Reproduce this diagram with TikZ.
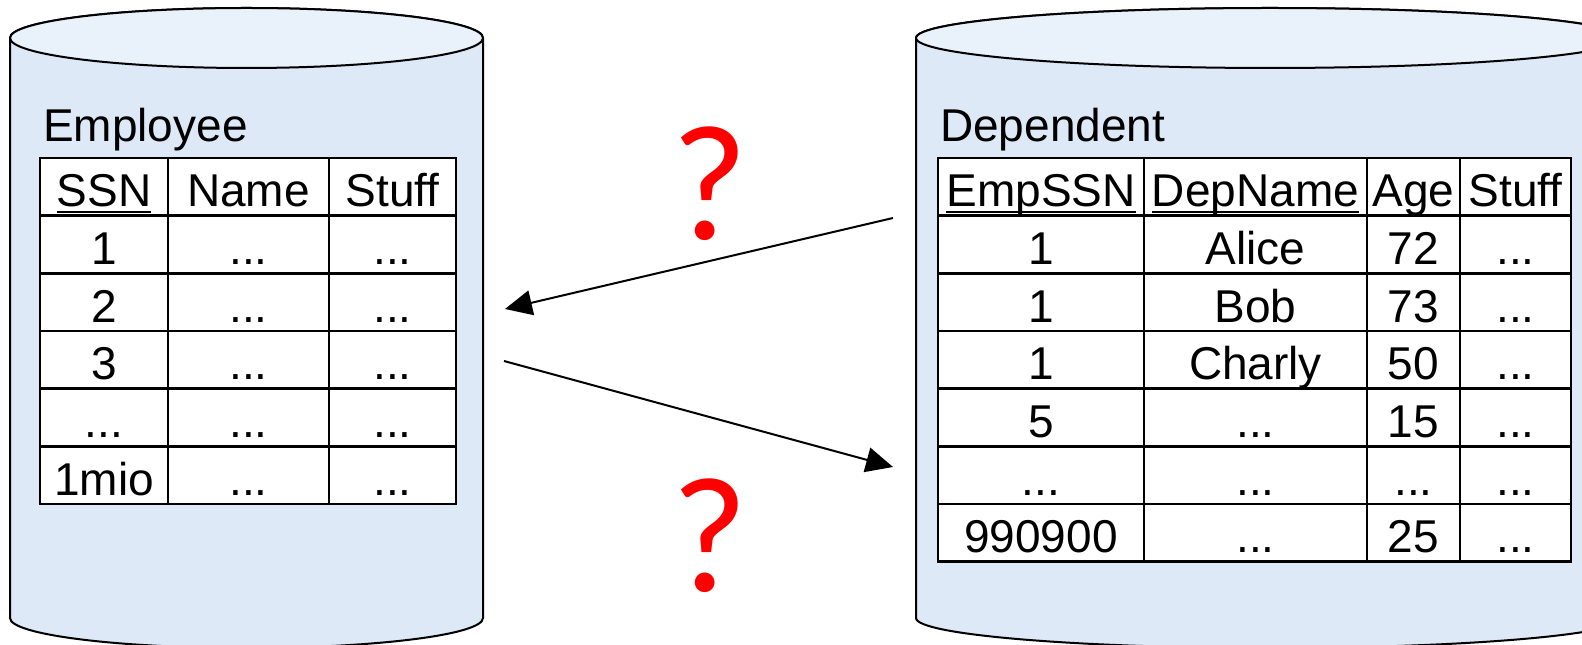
\documentclass[tikz,border=0pt]{standalone}
\usepackage{fontspec}
\setmainfont{Liberation Sans}
\newfontfamily\qfont{Carlito}
\usetikzlibrary{arrows.meta}
\definecolor{cylside}{RGB}{221,233,246}
\definecolor{cyltop}{RGB}{233,241,250}
\definecolor{qred}{RGB}{255,0,0}
\newcommand{\dts}{...}
\tikzset{
  cell/.style={font=\fontsize{46}{55}\selectfont, anchor=base, inner sep=0pt},
  title/.style={font=\fontsize{46}{55}\selectfont, anchor=base west, inner sep=0pt},
  gridline/.style={line width=2.5pt, draw=black},
  ulin/.style={line width=2.5pt},
  cyl/.style={line width=2pt, draw=black},
  link/.style={line width=2pt, -{Triangle[length=27pt,width=25pt]}},
  qmark/.style={font=\qfont\fontsize{165}{190}\selectfont, text=qred, anchor=base, inner sep=0pt}
}
\begin{document}
\begin{tikzpicture}[x=1pt,y=1pt]
\useasboundingbox (0,0) rectangle (1582,645);
\clip (0,0) rectangle (1582,645);

% --- database cylinders ---
% left (Employee)
\filldraw[cyl, fill=cylside] (10,607) -- (10,27)
  arc[start angle=180, end angle=360, x radius=236.5pt, y radius=30pt]
  -- (483,607) arc[start angle=0, end angle=180, x radius=236.5pt, y radius=30pt] -- cycle;
\filldraw[cyl, fill=cyltop] (246.5,607) ellipse [x radius=236.5pt, y radius=30pt];
% right (Dependent)
\filldraw[cyl, fill=cylside] (916,607) -- (916,27)
  arc[start angle=180, end angle=360, x radius=354pt, y radius=30pt]
  -- (1624,607) arc[start angle=0, end angle=180, x radius=354pt, y radius=30pt] -- cycle;
\filldraw[cyl, fill=cyltop] (1270,607) ellipse [x radius=354pt, y radius=30pt];

% --- Employee table ---
\node[title] (emptitle) at (43,503) {Employee};
\fill[white] (40,487) rectangle (456,141);
\foreach \k in {1,...,5} \draw[gridline] (40,487-57.67*\k) -- (456,487-57.67*\k);
\foreach \x in {168,329} \draw[gridline] (\x,487) -- (\x,141);
\draw[gridline] (40,487) rectangle (456,141);

\node[cell] (e-0-1) at (104,438.3) {SSN};
\node[cell] (e-0-2) at (248.5,438.3) {Name};
\node[cell] (e-0-3) at (392.5,438.3) {Stuff};
\draw[ulin] ([yshift=-5.3pt]e-0-1.base west) -- ([yshift=-5.3pt]e-0-1.base east);

\foreach \a/\b/\c [count=\i] in {1/\dts/\dts, 2/\dts/\dts, 3/\dts/\dts, \dts/\dts/\dts, 1mio/\dts/\dts}{
  \node[cell] (e-\i-1) at (104,{487-57.67*(\i+1)+9}) {\a};
  \node[cell] (e-\i-2) at (248.5,{487-57.67*(\i+1)+9}) {\b};
  \node[cell] (e-\i-3) at (392.5,{487-57.67*(\i+1)+9}) {\c};
}

% --- Dependent table ---
\node[title] (deptitle) at (940,503) {Dependent};
\fill[white] (938,487) rectangle (1571,83.3);
\foreach \k in {1,...,6} \draw[gridline] (938,487-57.67*\k) -- (1571,487-57.67*\k);
\foreach \x in {1144,1367,1460} \draw[gridline] (\x,487) -- (\x,83.3);
\draw[gridline] (938,487) rectangle (1571,83.3);

\node[cell] (d-0-1) at (1041,438.3) {EmpSSN};
\node[cell] (d-0-2) at (1255.5,438.3) {DepName};
\node[cell] (d-0-3) at (1413.5,438.3) {Age};
\node[cell] (d-0-4) at (1515.5,438.3) {Stuff};
\draw[ulin] ([yshift=-5.3pt]d-0-1.base west) -- ([yshift=-5.3pt]d-0-1.base east);
\draw[ulin] ([yshift=-5.3pt]d-0-2.base west) -- ([yshift=-5.3pt]d-0-2.base east);

\foreach \a/\b/\c/\d [count=\i] in {1/Alice/72/\dts, 1/Bob/73/\dts, 1/Charly/50/\dts, 5/\dts/15/\dts, \dts/\dts/\dts/\dts, 990900/\dts/25/\dts}{
  \node[cell] (d-\i-1) at (1041,{487-57.67*(\i+1)+9}) {\a};
  \node[cell] (d-\i-2) at (1255.5,{487-57.67*(\i+1)+9}) {\b};
  \node[cell] (d-\i-3) at (1413.5,{487-57.67*(\i+1)+9}) {\c};
  \node[cell] (d-\i-4) at (1515.5,{487-57.67*(\i+1)+9}) {\d};
}

% --- lookups between the tables ---
\coordinate (depout) at (893,427);
\coordinate (empin) at (505,336);
\coordinate (empout) at (504,284);
\coordinate (depin) at (893,178);
\draw[link] (depout) -- (empin);
\draw[link] (empout) -- (depin);

\node[qmark] (q1) at (710,405) {?};
\node[qmark] (q2) at (710,53) {?};
\end{tikzpicture}
\end{document}
